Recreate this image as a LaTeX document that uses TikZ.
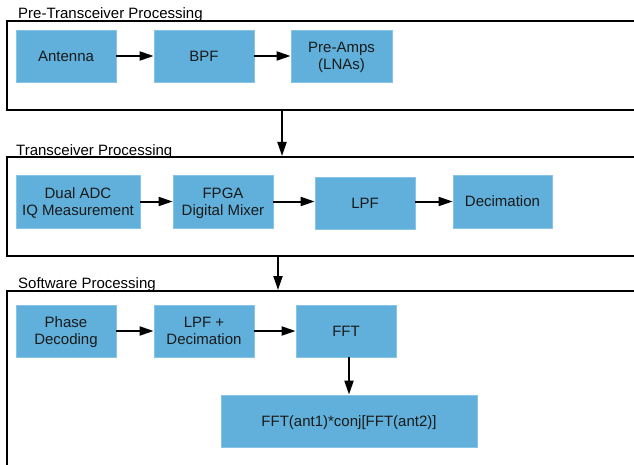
\documentclass[tikz,border=0pt]{standalone}
\usepackage{fontspec}
\setmainfont{Liberation Sans}
\usetikzlibrary{arrows.meta}
\definecolor{boxblue}{HTML}{60B0DB}
\definecolor{boxedge}{HTML}{85C4E6}
\definecolor{txt}{HTML}{1A1A1A}
\begin{document}
\begin{tikzpicture}[x=1pt,y=-1pt,
  blk/.style={draw=boxedge, line width=0.8pt, fill=boxblue, text=txt,
    font=\fontsize{15}{17}\selectfont, align=center, inner sep=0pt, text depth=0pt},
  frm/.style={draw=black, line width=2pt, inner sep=0pt},
  ttl/.style={anchor=base west, inner sep=0pt, font=\fontsize{15}{17}\selectfont},
  arr/.style={draw=black, line width=2pt, -{Triangle[length=14pt,width=9pt]}}]
\useasboundingbox (0,0) rectangle (634,465);
\clip (0,0) rectangle (634,465);
% frames
\node[frm, minimum width=653, minimum height=89] (f1) at (333.5,65.5) {};
\node[frm, minimum width=653, minimum height=99] (f2) at (333.5,206.5) {};
\node[frm, minimum width=653, minimum height=199] (f3) at (333.5,390.5) {};
% titles
\node[ttl] (t1) at (18,18.5) {Pre-Transceiver Processing};
\node[ttl] (t2) at (16,155.5) {Transceiver Processing};
\node[ttl] (t3) at (18,288.5) {Software Processing};
% row 1
\node[blk, minimum width=100, minimum height=52] (ant) at (66,56) {Antenna};
\node[blk, minimum width=100, minimum height=52] (bpf) at (204,56) {BPF};
\node[blk, minimum width=101, minimum height=52] (pre) at (341.5,56) {Pre-Amps\\(LNAs)};
% row 2
\node[blk, minimum width=124, minimum height=53] (adc) at (78,201.5) {Dual ADC\\IQ Measurement};
\node[blk, minimum width=100, minimum height=53] (fpga) at (223,201.5) {FPGA\\Digital Mixer};
\node[blk, minimum width=100, minimum height=52] (lpf) at (365,203) {LPF};
\node[blk, minimum width=99, minimum height=53] (dec) at (502.5,201.5) {Decimation};
% row 3
\node[blk, minimum width=100, minimum height=52] (pha) at (66,331) {Phase\\Decoding};
\node[blk, minimum width=100, minimum height=52] (lpfd) at (204,331) {LPF +\\Decimation};
\node[blk, minimum width=100, minimum height=52] (fft) at (346,331) {FFT};
\node[blk, minimum width=256, minimum height=52] (xc) at (349,421) {FFT(ant1)*conj[FFT(ant2)]};
% helper coordinates
\coordinate (c1) at (282,0);
\coordinate (c2) at (278,0);
% arrows
\draw[arr] (ant.east) -- (bpf.west);
\draw[arr] (bpf.east) -- (pre.west);
\draw[arr] (f1.south -| c1) -- (f2.north -| c1);
\draw[arr] (adc.east) -- (fpga.west);
\draw[arr] (fpga.east) -- (fpga.east -| lpf.west);
\draw[arr] (lpf.east |- dec.west) -- (dec.west);
\draw[arr] (f2.south -| c2) -- (f3.north -| c2);
\draw[arr] (pha.east) -- (lpfd.west);
\draw[arr] (lpfd.east) -- (fft.west);
\draw[arr] (fft.south -| xc.north) -- (xc.north);
\end{tikzpicture}
\end{document}
